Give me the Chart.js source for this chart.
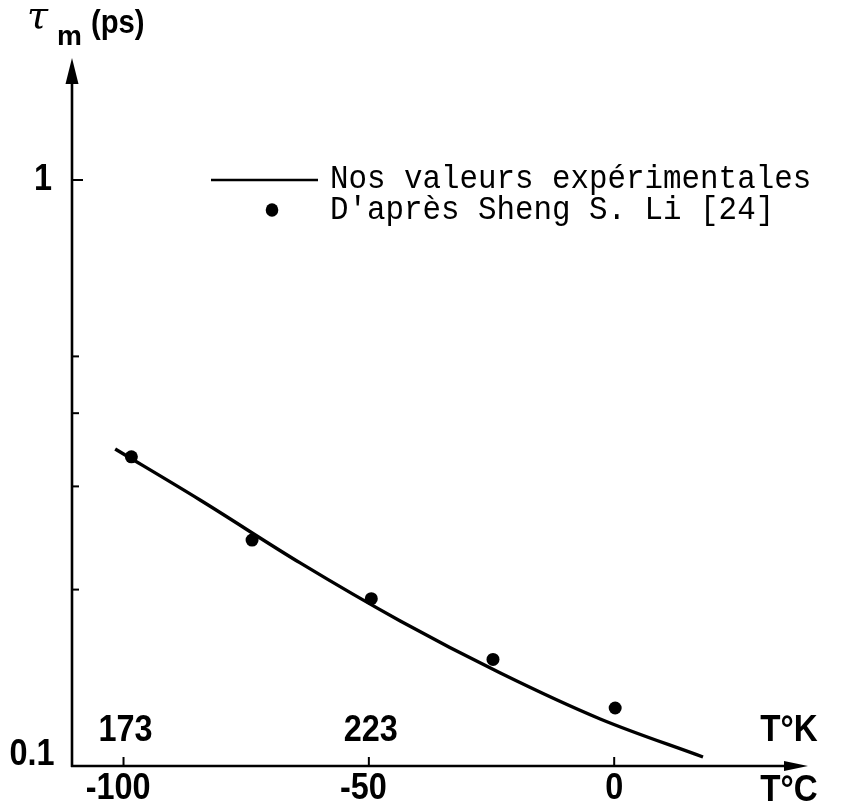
<!DOCTYPE html>
<html>
<head>
<meta charset="utf-8">
<script src="https://cdn.jsdelivr.net/npm/chart.js@4.4.1/dist/chart.umd.min.js"></script>
<style>
  html, body { margin: 0; padding: 0; background: #fff; }
  canvas { display: block; }
</style>
</head>
<body>
<canvas id="c" width="842" height="808"></canvas>
<script>
// Mean free time of carriers vs temperature (log scale)
const tempCurveC = [-101.7, -84.4, -64.0, -43.6, -23.2, -2.85, 18.1];
const tauCurve   = [0.3475, 0.2844, 0.2221, 0.1768, 0.1441, 0.1203, 0.1036];

const tempLiC = [-98.4, -73.8, -49.5, -24.7, 0.2];
const tauLi   = [0.337, 0.243, 0.193, 0.152, 0.1256];

const seriesLabels = ["Nos valeurs expérimentales", "D'après Sheng S. Li [24]"];

const xTicksC     = [-100, -50, 0];
const xTicksK     = [173, 223];
const yTickMarks  = [0.2, 0.3, 0.4, 0.5, 1];
const yTickLabels = [0.1, 1];

const NUM_FONT = "bold 36px 'Liberation Sans', Arial, sans-serif";
const NUM_SQUEEZE = 0.9;
const MONO_FONT = "34px 'Liberation Mono', 'DejaVu Sans Mono', monospace";

// fillText with horizontal compression; align: 'left' | 'center' | 'right'
function squeezedText(ctx, txt, x, y, sx, align) {
  const w = ctx.measureText(txt).width * sx;
  let left = x;
  if (align === 'center') left = x - w / 2;
  else if (align === 'right') left = x - w;
  ctx.save();
  ctx.textAlign = 'left';
  ctx.translate(left, y);
  ctx.scale(sx, 1);
  ctx.fillText(txt, 0, 0);
  ctx.restore();
}

const handAxes = {
  id: 'handAxes',
  beforeDraw(chart) {
    const ctx = chart.ctx;
    ctx.save();
    ctx.fillStyle = '#fff';
    ctx.fillRect(0, 0, chart.width, chart.height);
    ctx.restore();
  },
  afterDatasetsDraw(chart) {
    const { ctx, chartArea: a, scales: { x, y } } = chart;
    ctx.save();
    ctx.strokeStyle = '#000';
    ctx.fillStyle = '#000';
    ctx.lineCap = 'butt';

    // vertical axis with arrow
    ctx.lineWidth = 2.6;
    ctx.beginPath();
    ctx.moveTo(a.left, a.bottom + 1);
    ctx.lineTo(a.left, a.top + 20);
    ctx.stroke();
    ctx.beginPath();
    ctx.moveTo(a.left, a.top);
    ctx.lineTo(a.left - 6.5, a.top + 26);
    ctx.lineTo(a.left + 6.5, a.top + 26);
    ctx.closePath();
    ctx.fill();

    // horizontal axis with arrow
    ctx.beginPath();
    ctx.moveTo(a.left - 1, a.bottom);
    ctx.lineTo(a.right - 18, a.bottom);
    ctx.stroke();
    ctx.beginPath();
    ctx.moveTo(a.right, a.bottom);
    ctx.lineTo(a.right - 24, a.bottom - 5);
    ctx.lineTo(a.right - 24, a.bottom + 5);
    ctx.closePath();
    ctx.fill();

    // y tick marks (inside)
    ctx.lineWidth = 2;
    yTickMarks.forEach(v => {
      const py = y.getPixelForValue(v);
      const len = v === 1 ? 11 : 7;
      ctx.beginPath();
      ctx.moveTo(a.left, py);
      ctx.lineTo(a.left + len, py);
      ctx.stroke();
    });

    // x tick marks (upward)
    xTicksC.forEach(v => {
      const px = x.getPixelForValue(v);
      ctx.beginPath();
      ctx.moveTo(px, a.bottom);
      ctx.lineTo(px, a.bottom - 9);
      ctx.stroke();
    });

    // tick labels
    ctx.font = NUM_FONT;
    ctx.textBaseline = 'middle';

    // Celsius labels: digits centred on the tick, minus sign hanging left
    xTicksC.forEach(v => {
      const px = x.getPixelForValue(v);
      const digitsW = ctx.measureText(String(Math.abs(v))).width * NUM_SQUEEZE;
      squeezedText(ctx, String(v), px + digitsW / 2, a.bottom + 23, NUM_SQUEEZE, 'right');
    });

    // Kelvin labels above the axis
    xTicksK.forEach(k => {
      const px = x.getPixelForValue(k - 273);
      squeezedText(ctx, String(k), px + 2, a.bottom - 35, NUM_SQUEEZE, 'center');
    });

    // axis unit labels
    squeezedText(ctx, 'T°K', 789, a.bottom - 35, 0.92, 'center');
    squeezedText(ctx, 'T°C', 789, a.bottom + 25, 0.92, 'center');

    // y labels
    yTickLabels.forEach(v => {
      const py = y.getPixelForValue(v);
      squeezedText(ctx, String(v), v === 1 ? 43 : 32, v === 1 ? py : py - 11, NUM_SQUEEZE, 'center');
    });

    // axis title: tau_m (ps)
    ctx.textBaseline = 'alphabetic';
    ctx.textAlign = 'left';
    ctx.font = "italic 38px 'DejaVu Serif', 'Liberation Serif', serif";
    ctx.fillText('τ', 27, 28);
    ctx.font = "bold 28px 'Liberation Sans', Arial, sans-serif";
    ctx.fillText('m', 57, 45);
    ctx.font = "bold 34px 'Liberation Sans', Arial, sans-serif";
    squeezedText(ctx, '(ps)', 91, 33, 0.86, 'left');

    // legend
    const ds = chart.data.datasets;
    ctx.lineWidth = 2.4;
    ctx.beginPath();
    ctx.moveTo(211, 180);
    ctx.lineTo(318, 180);
    ctx.stroke();
    ctx.beginPath();
    ctx.ellipse(272, 210, 6.3, 6.8, 0, 0, Math.PI * 2);
    ctx.fill();

    ctx.font = MONO_FONT;
    ctx.textBaseline = 'middle';
    squeezedText(ctx, ds[0].label, 330, 179, 0.907, 'left');
    squeezedText(ctx, ds[1].label, 330, 210, 0.907, 'left');

    ctx.restore();
  }
};

new Chart(document.getElementById('c'), {
  type: 'scatter',
  data: {
    datasets: [
      {
        label: seriesLabels[0],
        data: tempCurveC.map((t, i) => ({ x: t, y: tauCurve[i] })),
        showLine: true,
        borderColor: '#000',
        borderWidth: 3.4,
        pointRadius: 0,
        cubicInterpolationMode: 'monotone',
        fill: false
      },
      {
        label: seriesLabels[1],
        data: tempLiC.map((t, i) => ({ x: t, y: tauLi[i] })),
        showLine: false,
        backgroundColor: '#000',
        borderColor: '#000',
        pointRadius: 6.5,
        pointBorderWidth: 0
      }
    ]
  },
  options: {
    responsive: false,
    animation: false,
    devicePixelRatio: 1,
    layout: { padding: { left: 72, right: 34, top: 58, bottom: 42 } },
    plugins: { legend: { display: false }, tooltip: { enabled: false } },
    scales: {
      x: { type: 'linear', min: -110.5, max: 39.5, display: false },
      y: { type: 'logarithmic', min: 0.1, max: 1.615, display: false }
    }
  },
  plugins: [handAxes]
});
</script>
</body>
</html>
